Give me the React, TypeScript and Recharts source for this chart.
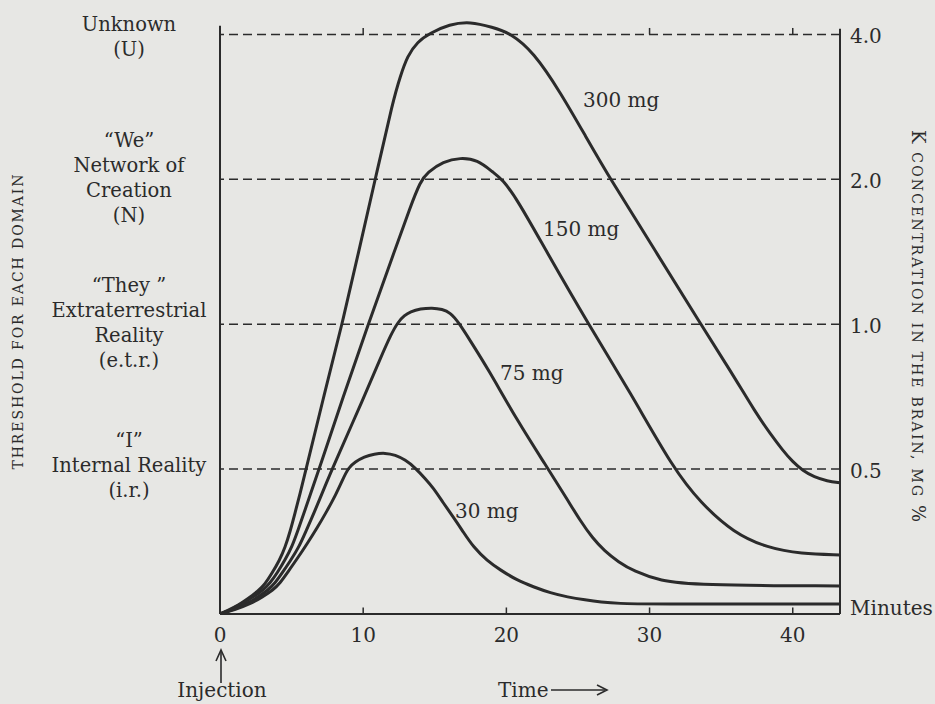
import React from 'react';
import { LineChart, Line, XAxis, YAxis, ReferenceLine } from 'recharts';

const W = 935;
const H = 704;
const BG = '#e7e7e4';
const INK = '#2b2b2b';
const SERIF = '"DejaVu Serif", serif';

// y axis is a "threshold level" index: 0 = baseline, 1..4 = threshold lines
const thresholdLevels = [1, 2, 3, 4];
const thresholdLabels = ['0.5', '1.0', '2.0', '4.0'];
const timeTicks = [0, 10, 20, 30, 40];
const bottomTicks = [10, 20, 30, 40];
const topTicks = [10, 30, 40];
const xMax = 43.3;

const domainNames = [
  ['\u201CI\u201D', 'Internal Reality', '(i.r.)'],
  ['\u201CThey \u201D', 'Extraterrestrial', 'Reality', '(e.t.r.)'],
  ['\u201CWe\u201D', 'Network of', 'Creation', '(N)'],
  ['Unknown', '(U)'],
];

const doseNames = ['300 mg', '150 mg', '75 mg', '30 mg'];

const t300 = [0, 0.56, 1.26, 1.96, 2.66, 3.15, 3.64, 4.13, 4.55, 4.9, 5.24, 5.59, 6.01, 7.27, 8.53, 9.65, 10.84, 12.1, 12.59, 13.08, 13.78, 14.69, 16.01, 17.48, 19.02, 20.28, 21.89, 23.78, 25.52, 27.27, 30.42, 33.57, 35.66, 37.41, 38.46, 39.3, 40.0, 40.7, 41.5, 42.4, 43.3];
const k300 = [0, 0.025, 0.06, 0.105, 0.16, 0.207, 0.283, 0.366, 0.46, 0.57, 0.698, 0.83, 1.0, 1.513, 2.0, 2.487, 3.0, 3.55, 3.71, 3.85, 3.95, 4.01, 4.07, 4.09, 4.05, 4.01, 3.88, 3.6, 3.3, 3.0, 2.505, 2.0, 1.678, 1.389, 1.24, 1.13, 1.05, 0.99, 0.945, 0.918, 0.905];

const t150 = [0, 0.77, 1.61, 2.31, 3.01, 3.5, 3.99, 4.55, 5.03, 5.45, 5.87, 6.29, 6.92, 8.6, 10.35, 12.17, 13.29, 13.99, 14.48, 15.59, 16.78, 17.97, 19.09, 19.72, 20.77, 22.73, 25.73, 28.67, 31.68, 33.57, 35.87, 38.25, 40.56, 43.3];
const k150 = [0, 0.03, 0.076, 0.117, 0.166, 0.214, 0.283, 0.375, 0.465, 0.58, 0.698, 0.82, 1.0, 1.5, 2.0, 2.5, 2.81, 2.985, 3.047, 3.123, 3.15, 3.136, 3.047, 3.0, 2.86, 2.515, 2.0, 1.527, 1.0, 0.767, 0.56, 0.456, 0.415, 0.408];

const t75 = [0, 0.91, 1.96, 2.66, 3.36, 3.85, 4.34, 4.9, 5.52, 6.01, 6.57, 7.52, 7.9, 10.07, 11.19, 11.96, 12.45, 12.87, 13.29, 13.99, 14.83, 15.52, 16.08, 16.64, 17.48, 18.67, 20.77, 22.73, 24.27, 25.17, 26.01, 26.85, 27.83, 28.88, 30.77, 33.08, 43.3];
const k75 = [0, 0.03, 0.076, 0.117, 0.166, 0.214, 0.283, 0.365, 0.463, 0.573, 0.698, 0.926, 1.016, 1.5, 1.762, 1.934, 2.017, 2.06, 2.086, 2.107, 2.114, 2.104, 2.08, 2.017, 1.886, 1.7, 1.333, 1.03, 0.788, 0.642, 0.525, 0.435, 0.359, 0.297, 0.228, 0.2, 0.193];

const t30 = [0, 1.05, 2.24, 2.94, 3.71, 4.2, 4.69, 5.38, 6.08, 6.78, 7.48, 8.11, 8.53, 8.95, 9.44, 10.07, 10.77, 11.54, 12.24, 12.94, 13.64, 14.34, 14.9, 15.59, 16.29, 16.99, 17.69, 18.67, 19.58, 20.7, 21.89, 23.08, 24.27, 25.52, 26.57, 27.97, 29.37, 43.3];
const k30 = [0, 0.03, 0.076, 0.117, 0.166, 0.214, 0.283, 0.38, 0.484, 0.594, 0.712, 0.829, 0.919, 1.009, 1.05, 1.085, 1.105, 1.112, 1.098, 1.064, 1.009, 0.933, 0.87, 0.767, 0.67, 0.566, 0.463, 0.366, 0.304, 0.235, 0.187, 0.145, 0.117, 0.097, 0.083, 0.072, 0.069, 0.069];

const mk = (t: number[], k: number[]) => t.map((x, i) => ({ t: x, k: k[i] }));
const series = [mk(t300, k300), mk(t150, k150), mk(t75, k75), mk(t30, k30)];

const labelShift = [-2, 0, 0, 4.5];

const DomainLabel = (props: any) => {
  const { viewBox, lines, shift } = props;
  if (!viewBox) return null;
  const cx = viewBox.x - 91;
  const n = lines.length;
  return (
    <text fill={INK} fontFamily={SERIF} fontSize={19.5} textAnchor="middle">
      {lines.map((s: string, i: number) => (
        <tspan key={i} x={cx} y={viewBox.y + 5 + shift + (i - (n - 1) / 2) * 25}>
          {s}
        </tspan>
      ))}
    </text>
  );
};

const XTick = (props: any) => {
  const { x, y, payload } = props;
  return (
    <text x={x} y={y + 28} fill={INK} fontFamily={SERIF} fontSize={20} textAnchor="middle">
      {payload.value}
    </text>
  );
};

const YTick = (props: any) => {
  const { x, y, payload } = props;
  const idx = thresholdLevels.indexOf(payload.value);
  return (
    <text x={x + 10} y={y + 9} fill={INK} fontFamily={SERIF} fontSize={20} textAnchor="start">
      {thresholdLabels[idx]}
    </text>
  );
};

export default function App() {
  return (
    <div style={{ position: 'absolute', left: 0, top: 0, width: W, height: H, background: BG, overflow: 'hidden' }}>
      <LineChart width={W} height={H} margin={{ top: 20, right: 35, bottom: 60, left: 220 }}>
        <XAxis
          type="number"
          dataKey="t"
          domain={[0, xMax]}
          allowDataOverflow
          ticks={timeTicks}
          tick={<XTick />}
          tickLine={false}
          tickSize={0}
          tickMargin={0}
          axisLine={{ stroke: INK, strokeWidth: 2 }}
          height={30}
        />
        <YAxis
          orientation="right"
          type="number"
          domain={[0, 4.1]}
          allowDataOverflow
          ticks={thresholdLevels}
          tick={<YTick />}
          tickLine={false}
          tickSize={0}
          tickMargin={0}
          axisLine={false}
          width={60}
        />
        {thresholdLevels.map((lvl, i) => (
          <ReferenceLine
            key={'th' + lvl}
            y={lvl}
            stroke={INK}
            strokeWidth={1.5}
            strokeDasharray="9 5"
            label={<DomainLabel lines={domainNames[i]} shift={labelShift[i]} />}
          />
        ))}
        <ReferenceLine segment={[{ x: 0, y: 0 }, { x: 0, y: 4.06 }]} stroke={INK} strokeWidth={2} />
        <ReferenceLine segment={[{ x: xMax, y: 0 }, { x: xMax, y: 4.04 }]} stroke={INK} strokeWidth={2} />
        {bottomTicks.map((v) => (
          <ReferenceLine key={'bt' + v} segment={[{ x: v, y: 0 }, { x: v, y: 0.045 }]} stroke={INK} strokeWidth={1.5} />
        ))}
        {topTicks.map((v) => (
          <ReferenceLine key={'tt' + v} segment={[{ x: v, y: 4 }, { x: v, y: 4.045 }]} stroke={INK} strokeWidth={1.5} />
        ))}
        {series.map((d, i) => (
          <Line
            key={doseNames[i]}
            name={doseNames[i]}
            data={d}
            dataKey="k"
            type="basis"
            stroke={INK}
            strokeWidth={3}
            dot={false}
            activeDot={false}
            isAnimationActive={false}
          />
        ))}
      </LineChart>
      <svg
        width={W}
        height={H}
        style={{ position: 'absolute', left: 0, top: 0, pointerEvents: 'none' }}
        fontFamily={SERIF}
        fill={INK}
      >
        <text transform="translate(23,322) rotate(-90)" textAnchor="middle" fontSize={14} textLength={295} lengthAdjust="spacing">
          THRESHOLD FOR EACH DOMAIN
        </text>
        <text transform="translate(912,326) rotate(90)" textAnchor="middle" textLength={392} lengthAdjust="spacing">
          <tspan fontSize={18}>K</tspan>
          <tspan fontSize={14}> CONCENTRATION IN THE BRAIN, MG </tspan>
          <tspan fontSize={18}>%</tspan>
        </text>
        <text x={583} y={107} fontSize={20}>{doseNames[0]}</text>
        <text x={543} y={236} fontSize={20}>{doseNames[1]}</text>
        <text x={500} y={380} fontSize={20}>{doseNames[2]}</text>
        <text x={455} y={518} fontSize={20}>{doseNames[3]}</text>
        <text x={850} y={615} fontSize={20}>Minutes</text>
        <text x={222} y={697} fontSize={20} textAnchor="middle">Injection</text>
        <line x1={221} y1={683} x2={221} y2={652} stroke={INK} strokeWidth={1.6} />
        <path d="M216,661 L221,650 L226,661" stroke={INK} strokeWidth={1.6} fill="none" />
        <text x={498} y={697} fontSize={20}>Time</text>
        <line x1={551} y1={690} x2={605} y2={690} stroke={INK} strokeWidth={1.6} />
        <path d="M597,685 L607,690 L597,695" stroke={INK} strokeWidth={1.6} fill="none" />
      </svg>
    </div>
  );
}
